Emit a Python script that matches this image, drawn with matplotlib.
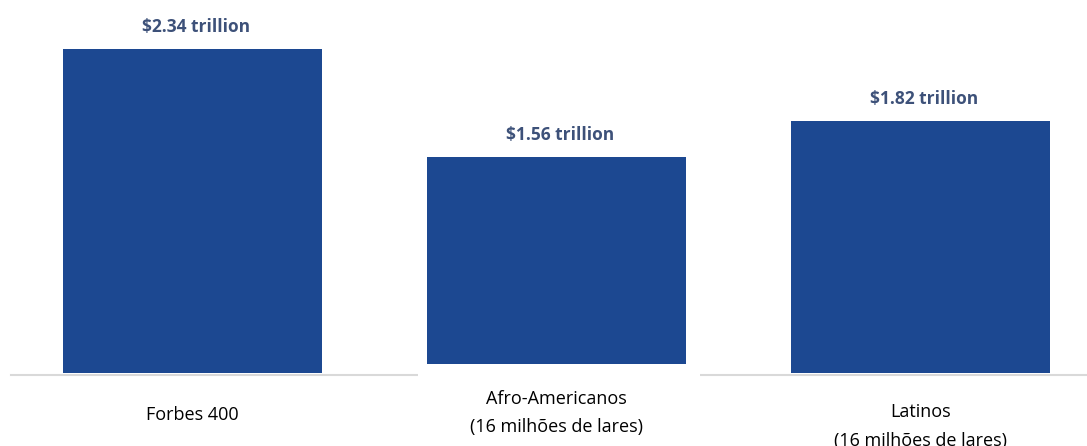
import matplotlib.pyplot as plt
from matplotlib.patches import Rectangle

categories = ['Forbes 400', 'Afro-Americanos\n(16 milhões de lares)', 'Latinos\n(16 milhões de lares)']
values = [2.34, 1.56, 1.82]
value_labels = ['$2.34 trillion', '$1.56 trillion', '$1.82 trillion']

bar_color = '#1c4891'
label_color = '#3d5179'

fig = plt.figure(figsize=(10.87, 4.46), dpi=100)
ax = fig.add_axes([0, 0, 1, 1])
ax.set_xlim(-0.529, 2.457)
ax.set_ylim(-0.527, 2.693)
ax.axis('off')

x = list(range(len(values)))
ax.bar(x, values, width=0.71, color=bar_color, zorder=2)
# baseline
ax.axhline(-0.013, xmin=0.01, xmax=1, color='#d9d9d9', lw=1.5, zorder=1)

for xi, v, lab in zip(x, values, value_labels):
    ax.text(xi + 0.01, v + 0.155, lab, ha='center', va='center', fontsize=12.5,
            fontweight='bold', color=label_color, family=['Open Sans', 'DejaVu Sans'])

# white box under the middle label (as in the source picture)
ax.add_patch(Rectangle((1 - 0.38, -0.6), 0.775, 0.665, facecolor='white',
                       edgecolor='none', zorder=3))

fnt = ['Liberation Sans Narrow', 'Open Sans', 'DejaVu Sans']
ax.text(0, -0.30, categories[0], ha='center', va='center', fontsize=13,
        family=fnt, color='black', zorder=4)
ax.text(1, -0.29, categories[1], ha='center', va='center', fontsize=13,
        family=fnt, color='black', linespacing=1.75, zorder=4)
ax.text(2, -0.385, categories[2], ha='center', va='center', fontsize=13,
        family=fnt, color='black', linespacing=1.8, zorder=4, clip_on=False)

fig.savefig('out.png', dpi=100)
